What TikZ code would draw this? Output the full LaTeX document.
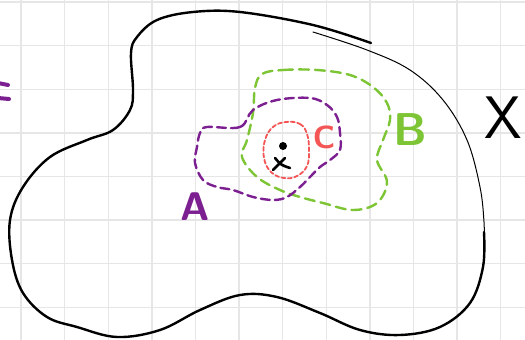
\documentclass[tikz,border=0pt]{standalone}
\usepackage{tikz}
\usetikzlibrary{calc,positioning}
\definecolor{SetPurple}{HTML}{7B1F91}
\definecolor{SetGreen}{HTML}{7DC535}
\definecolor{SetRed}{HTML}{F45656}
\definecolor{GridGray}{HTML}{E6E6E6}

\begin{document}
\begin{tikzpicture}[x=1pt, y=-1pt, every node/.style={font=\sffamily\bfseries},
    gridline/.style={GridGray, line width=1.4pt},
    setA/.style={SetPurple, line width=2.4pt, dash pattern=on 9pt off 5pt, line cap=round},
    setB/.style={SetGreen, line width=2.4pt, dash pattern=on 10pt off 6pt, line cap=round},
    setC/.style={SetRed, line width=1.8pt, dash pattern=on 4pt off 2.5pt, line cap=round}]
    \useasboundingbox (0,0) rectangle (525,340);

    % Grid
    \fill[white] (0,0) rectangle (525,340);
    \foreach \i in {0,...,11} {
        \draw[gridline] (21+43.6*\i, 0) -- (21+43.6*\i, 340);
    }
    \foreach \j in {0,...,7} {
        \draw[gridline] (0, 2+43.6*\j) -- (525, 2+43.6*\j);
    }

    % Leftover stroke at the left edge
    \draw[SetPurple, line width=4pt, line cap=round] (-2,83) -- (8,85);
    \draw[SetPurple, line width=4pt, line cap=round] (-2,98) -- (9,99);

    % Space X (thick part)
    \draw[line width=2.4pt, line cap=round] plot[smooth, tension=0.6] coordinates {
        (484,232) (483,267) (470,303) (440,327) (400,335) (360,330) (320,313)
        (277,297) (240,295) (200,310) (160,330) (117,337) (77,327) (47,317)
        (23,293) (12,260) (10,220) (23,187) (50,157) (87,140) (113,130)
        (130,110) (133,90) (131,53) (137,37) (157,20) (193,12) (240,12)
        (313,25) (371,43)};
    % Space X (thin part)
    \draw[line width=1pt, line cap=round] plot[smooth, tension=0.6] coordinates {
        (313,32) (367,50) (410,70) (443,100) (467,140) (480,187) (484,222) (484,240)};

    % Set B
    \draw[setB] plot[smooth cycle, tension=0.6] coordinates {
        (262,74) (283,70) (317,70) (350,75) (373,87) (387,103) (390,120)
        (383,140) (377,160) (387,182) (377,203) (353,210) (323,203) (300,197)
        (280,190) (257,177) (242,157) (247,140) (253,113) (255,88)};

    % Set A
    \draw[setA] plot[smooth cycle, tension=0.6] coordinates {
        (207,127) (240,127) (253,110) (277,100) (310,98) (327,105) (337,117)
        (340,133) (340,150) (330,160) (320,167) (310,177) (300,187) (287,197)
        (273,200) (253,197) (233,190) (217,187) (203,180) (195,163) (197,147)
        (200,133)};

    % Set C
    \draw[setC] plot[smooth cycle, tension=0.7] coordinates {
        (286,122) (300,124) (307,134) (309,150) (307,166) (297,176) (284,178)
        (271,172) (264,158) (265,140) (273,127)};

    % Points
    \fill (283,146) circle (4);
    \draw[line width=2.6pt, line cap=round] (273,170) -- (285,158);
    \draw[line width=2.6pt, line cap=round] (275,158) .. controls (281,165) .. (290,168);

    % Labels
    \node[SetPurple, font=\sffamily\bfseries\fontsize{40}{40}\selectfont] (labA) at (195,207) {A};
    \node[SetGreen, font=\sffamily\bfseries\fontsize{46}{46}\selectfont] (labB) at (410,130) {B};
    \node[SetRed, font=\sffamily\bfseries\fontsize{32}{32}\selectfont] (labC) at (324,137) {C};
    \node[inner sep=0pt, font=\sffamily\fontsize{60}{60}\selectfont] (labX) at (503,118) {X};
\end{tikzpicture}
\end{document}
